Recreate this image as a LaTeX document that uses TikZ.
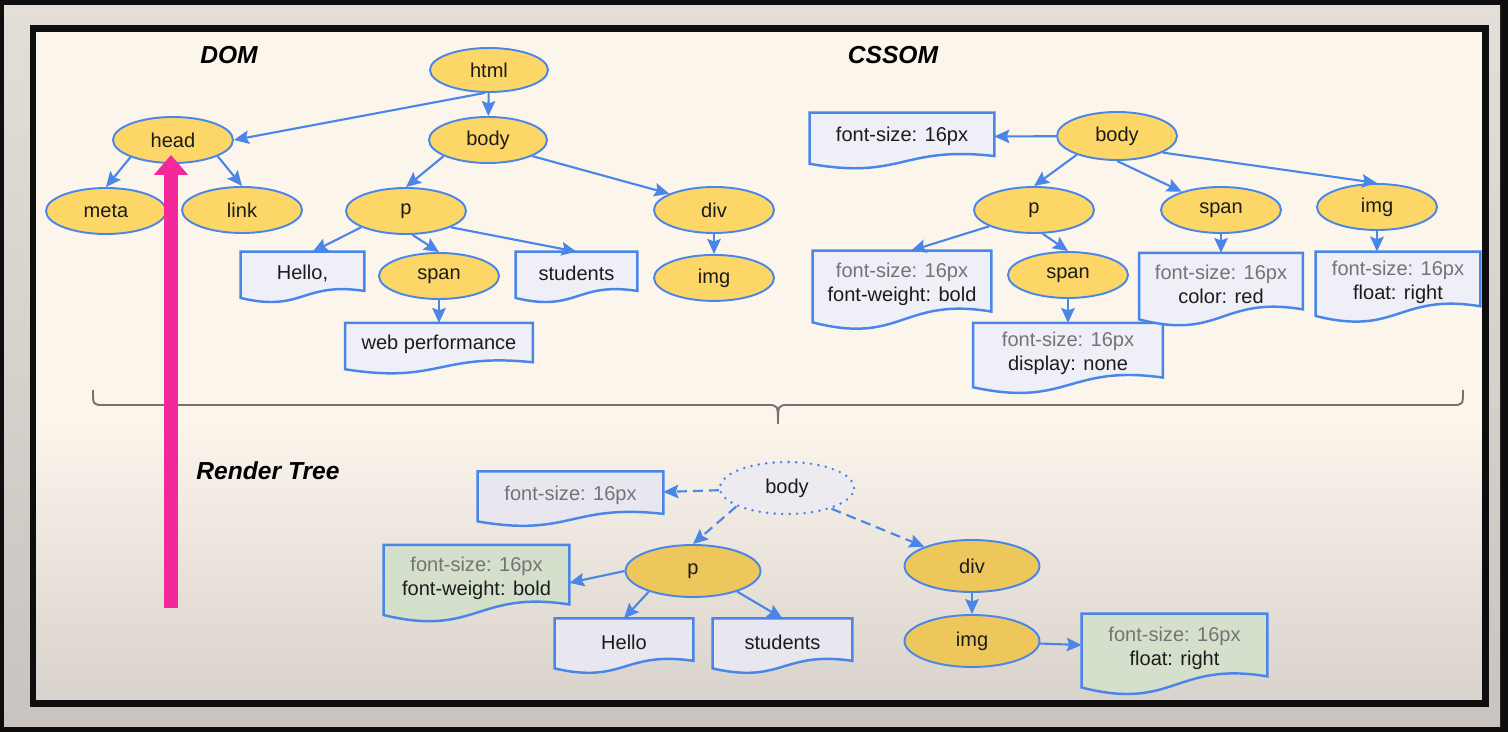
\documentclass[tikz,border=0pt]{standalone}
\usepackage{fontspec}
\setmainfont{Liberation Sans}
\usetikzlibrary{arrows.meta, positioning, shapes.geometric, calc}

\definecolor{screen}{HTML}{0E0E0F}
\definecolor{bandtop}{HTML}{E4DED8}
\definecolor{bandlow}{HTML}{C9C4BF}
\definecolor{cream}{HTML}{FCF5EC}
\definecolor{creamlow}{HTML}{D8D2CC}
\definecolor{lineblue}{HTML}{4A86E8}
\definecolor{tagfill}{HTML}{FCD768}
\definecolor{tagfilldim}{HTML}{EDC65C}
\definecolor{ghostfill}{HTML}{EEEBF0}
\definecolor{boxfill}{HTML}{EFEFF7}
\definecolor{boxfilldim}{HTML}{E8E6EE}
\definecolor{greenfill}{HTML}{D4DFCC}
\definecolor{cssgray}{HTML}{747474}
\definecolor{ink}{HTML}{1C1C1C}
\definecolor{pinkc}{HTML}{F2289B}
\definecolor{bracegray}{HTML}{77726E}

\pgfdeclarelayer{backdrop}
\pgfdeclarelayer{boxlayer}
\pgfsetlayers{backdrop,boxlayer,main}

\newcommand\labelfont{\fontsize{11.4}{13.6}\selectfont}
\newcommand\titlefont{\fontsize{14}{16}\selectfont\bfseries\itshape}

% box outline with a wavy bottom, drawn under the node text
\newcommand\wavebox[2][boxfill]{%
  \begin{pgfonlayer}{boxlayer}
    \draw[boxedge, fill=#1] (#2.north west) -- (#2.north east)
      -- ($(#2.south east)!0.1!(#2.north east)$)
      .. controls ($(#2.south)!0.32!(#2.north)$) and ($(#2.south)!-0.4!(#2.north)$)
      .. ($(#2.south west)!-0.06!(#2.north west)$) -- cycle;
  \end{pgfonlayer}}

\begin{document}
\begin{tikzpicture}[
    x=0.02cm, y=-0.02cm,
    tag/.style={ellipse, draw=lineblue, line width=1.1pt, fill=tagfill, inner sep=0pt,
      minimum width=2.4cm, minimum height=0.92cm, font=\labelfont, text=ink},
    rtag/.style={tag, fill=tagfilldim, minimum width=2.7cm, minimum height=1.04cm},
    ghost/.style={rtag, draw=lineblue, fill=ghostfill, line width=1.6pt,
      dash pattern=on 0pt off 0.15cm, line cap=round},
    textbox/.style={rectangle, inner sep=0pt, align=center, font=\labelfont, text=ink},
    boxedge/.style={draw=lineblue, line width=1.4pt, line join=miter},
    title/.style={font=\titlefont, text=black},
    arrow/.style={-{Stealth[length=0.3cm, width=0.27cm, inset=0.05cm]}, line width=1.2pt, draw=lineblue},
    dasharrow/.style={arrow, dash pattern=on 0.2cm off 0.12cm},
    pinkarrow/.style={draw=pinkc, line width=0.28cm, -{Triangle[width=0.66cm, length=0.4cm]}},
    brace/.style={draw=bracegray, line width=1.1pt}
  ]
    \useasboundingbox (0,0) rectangle (1508,732);

    % screen, frame and slide background
    \begin{pgfonlayer}{backdrop}
      \fill[screen] (0,0) rectangle (1508,732);
      \shade[top color=bandtop, bottom color=bandlow] (4,6) rectangle (1500,727);
      \fill[cream] (33,28.5) rectangle (1485,704);
      \shade[top color=cream, bottom color=creamlow] (33,420) rectangle (1485,704);
      \draw[screen, line width=0.14cm] (33,28.5) rectangle (1485,704);
    \end{pgfonlayer}

    \node[title] (domtitle) at (229,55) {DOM};
    \node[title] (cssomtitle) at (893,55) {CSSOM};
    \node[title] (rendertitle) at (268,471) {Render Tree};

    % DOM
    \node[tag, minimum width=2.36cm, minimum height=0.88cm] (dhtml) at (489,70) {html};
    \node[tag] (dhead) at (173,140) {head};
    \node[tag, minimum width=2.36cm] (dbody) at (488,140) {body};
    \node[tag] (dmeta) at (106,211) {meta};
    \node[tag] (dlink) at (242,210) {link};
    \node[tag] (dp) at (406,211) {p};
    \node[tag] (ddiv) at (714,210) {div};
    \node[tag] (dspan) at (439,276) {span};
    \node[tag, below=0.4cm of ddiv] (dimg) {img};
    \node[textbox, minimum width=2.46cm, minimum height=0.86cm] (dhello) at (302.5,273.5) {Hello,};
    \node[textbox, minimum width=2.42cm, minimum height=0.86cm] (dstudents) at (576.5,273.5) {students};
    \node[textbox, minimum width=3.74cm, minimum height=0.86cm, below=0.46cm of dspan] (dweb) {web performance};
    \wavebox{dhello}
    \wavebox{dstudents}
    \wavebox{dweb}

    \draw[arrow] (dhtml.-100) -- (dhead.east);
    \draw[arrow] (dhtml) -- (dbody);
    \draw[arrow] (dhead.-158) -- (dmeta.north);
    \draw[arrow] (dhead.-20) -- (dlink.north);
    \draw[arrow] (dbody.-160) -- (dp.north);
    \draw[arrow] (dbody.-20) -- (ddiv.160);
    \draw[arrow] (dp.-160) -- (dhello.65);
    \draw[arrow] (dp.-75) -- (dspan.north);
    \draw[arrow] (dp.-20) -- (dstudents.north);
    \draw[arrow] (dspan) -- (dweb);
    \draw[arrow] (ddiv) -- (dimg);

    % CSSOM
    \node[tag, minimum height=0.96cm] (cbody) at (1117,136) {body};
    \node[tag] (cp) at (1034,210) {p};
    \node[tag] (cspan) at (1221,210) {span};
    \node[tag] (cimg) at (1377,207) {img};
    \node[tag] (cspanin) at (1068,275) {span};
    \node[textbox, minimum width=3.68cm, minimum height=0.95cm] (cfs) at (902,136.8) {font-size: 16px};
    \node[textbox, minimum width=3.56cm, minimum height=1.34cm] (cpbox) at (902,284.5)
      {{\color{cssgray}font-size: 16px}\\font-weight: bold};
    \node[textbox, minimum width=3.78cm, minimum height=1.2cm, below=0.48cm of cspanin] (cspaninbox)
      {{\color{cssgray}font-size: 16px}\\display: none};
    \node[textbox, minimum width=3.26cm, minimum height=1.24cm, below=0.38cm of cspan] (cspanbox)
      {{\color{cssgray}font-size: 16px}\\color: red};
    \node[textbox, minimum width=3.28cm, minimum height=1.2cm] (cimgbox) at (1398,282)
      {{\color{cssgray}font-size: 16px}\\float: right};
    \wavebox{cfs}
    \wavebox{cpbox}
    \wavebox{cspaninbox}
    \wavebox{cspanbox}
    \wavebox{cimgbox}

    \draw[arrow] (cbody) -- (cfs);
    \draw[arrow] (cbody.-155) -- (cp.north);
    \draw[arrow] (cbody.south) -- (cspan.155);
    \draw[arrow] (cbody.-20) -- (cimg.north);
    \draw[arrow] (cp.-160) -- (cpbox.75);
    \draw[arrow] (cp.-70) -- (cspanin.north);
    \draw[arrow] (cspanin) -- (cspaninbox);
    \draw[arrow] (cspan) -- (cspanbox);
    \draw[arrow] (cimg.south) -- (cimg.south |- cimgbox.north);

    % brace joining both trees
    \draw[brace] (93,390) .. controls (93,405) .. (104,405) -- (767,405)
      .. controls (778,405) .. (778,424) .. controls (778,405) .. (789,405)
      -- (1452,405) .. controls (1463,405) .. (1463,390);

    % Render tree
    \node[ghost, minimum width=2.68cm] (rbody) at (787,488) {body};
    \node[rtag] (rp) at (693,571) {p};
    \node[rtag] (rdiv) at (972,566) {div};
    \node[rtag] (rimg) at (972,641) {img};
    \node[textbox, minimum width=3.7cm, minimum height=0.93cm] (rfs) at (570.5,495)
      {\color{cssgray}font-size: 16px};
    \node[textbox, minimum width=3.7cm, minimum height=1.31cm] (rgp) at (476.5,578)
      {{\color{cssgray}font-size: 16px}\\font-weight: bold};
    \node[textbox, minimum width=2.76cm, minimum height=0.93cm] (rhello) at (624,642) {Hello};
    \node[textbox, minimum width=2.78cm, minimum height=0.93cm] (rstudents) at (782.5,642) {students};
    \node[textbox, minimum width=3.7cm, minimum height=1.38cm] (rgimg) at (1174.5,648.5)
      {{\color{cssgray}font-size: 16px}\\float: right};
    \wavebox[boxfilldim]{rfs}
    \wavebox[greenfill]{rgp}
    \wavebox[boxfilldim]{rhello}
    \wavebox[boxfilldim]{rstudents}
    \wavebox[greenfill]{rgimg}

    \draw[dasharrow] (rbody) -- (rfs);
    \draw[dasharrow] (rbody.-160) -- (rp.north);
    \draw[dasharrow] (rbody.-25) -- (rdiv.158);
    \draw[arrow] (rp.west) -- (rgp.-3);
    \draw[arrow] (rp.-155) -- (rhello.north);
    \draw[arrow] (rp.-25) -- (rstudents.north);
    \draw[arrow] (rdiv) -- (rimg);
    \draw[arrow] (rimg) -- (rgimg);

    % pink pointer up to head
    \coordinate (liftfoot) at (171,608);
    \coordinate (lifttip) at ([yshift=0.18cm]dhead.south);
    \draw[pinkarrow] (liftfoot) -- (liftfoot |- lifttip);
  \end{tikzpicture}
\end{document}
